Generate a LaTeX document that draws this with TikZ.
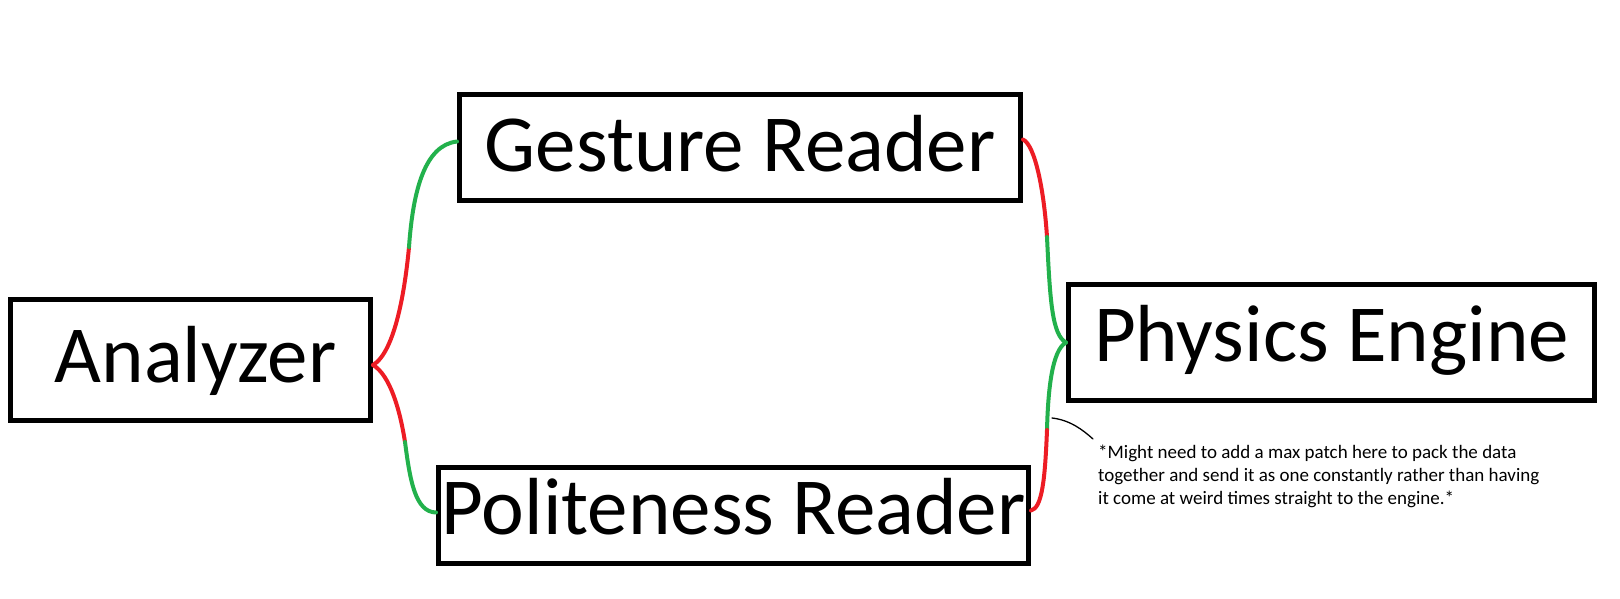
\documentclass[tikz,border=0pt]{standalone}
\usepackage{fontspec}
\setmainfont{Carlito}
\definecolor{pgreen}{RGB}{34,177,76}
\definecolor{pred}{RGB}{237,28,36}
\begin{document}
\begin{tikzpicture}[x=1pt,y=-1pt,
  box/.style={draw, line width=5pt, rectangle, inner sep=0pt,
    font=\fontsize{81}{97}\selectfont, text depth=0pt},
  wire/.style={line width=4pt, line cap=round},
  notetext/.style={inner sep=0pt, align=left, anchor=base west,
    font=\fontsize{19}{23}\selectfont},
  pointer/.style={line width=1.3pt, line cap=round}]
\useasboundingbox (0,0) rectangle (1620,598);
\fill[white] (0,0) rectangle (1620,598);
% boxes
\node[box, minimum width=360pt, minimum height=121pt, text height=44pt] (an) at (190.5,360) {\hspace*{10pt}Analyzer};
\node[box, minimum width=561pt, minimum height=106pt, text height=48pt] (gs) at (740,147.5) {Gesture Reader};
\node[box, minimum width=590pt, minimum height=96pt, text height=37pt] (pr) at (733.5,515.5) {Politeness Reader};
\node[box, minimum width=526pt, minimum height=116pt, text height=37pt] (ph) at (1331.5,342.5) {Physics Engine};
% colour changes along the connectors
\coordinate (j1) at ([yshift=-5pt]an.east);
\coordinate (t1) at (409,247);
\coordinate (t2) at (405,442);
\coordinate (t3) at (1047,237);
\coordinate (t4) at (1047,430);
% connectors
\draw[wire,pred] (j1) .. controls (395,352) and (405,290) .. (t1);
\draw[wire,pgreen] (t1) .. controls (413,190) and (425,145) .. ([yshift=6pt]gs.west);
\draw[wire,pred] (j1) .. controls (390,375) and (400,410) .. (t2);
\draw[wire,pgreen] (t2) .. controls (410,480) and (415,512) .. ([yshift=3pt]pr.west);
\draw[wire,pred] ([yshift=8pt]gs.east) .. controls (1035,145) and (1044,190) .. (t3);
\draw[wire,pgreen] (t3) .. controls (1050,300) and (1052,335) .. (ph.west);
\draw[wire,pgreen] (ph.west) .. controls (1052,350) and (1048,390) .. (t4);
\draw[wire,pred] (t4) .. controls (1045,480) and (1042,508) .. ([yshift=5pt]pr.east);
% note
\node[notetext] (note) at (1098,504) {*Might need to add a max patch here to pack the data\\together and send it as one constantly rather than having\\it come at weird times straight to the engine.*};
\coordinate (n1) at (1052,418);
\coordinate (n2) at (1093,439);
\draw[pointer] (n1) .. controls (1070,420) and (1083,430) .. (n2);
\end{tikzpicture}
\end{document}
